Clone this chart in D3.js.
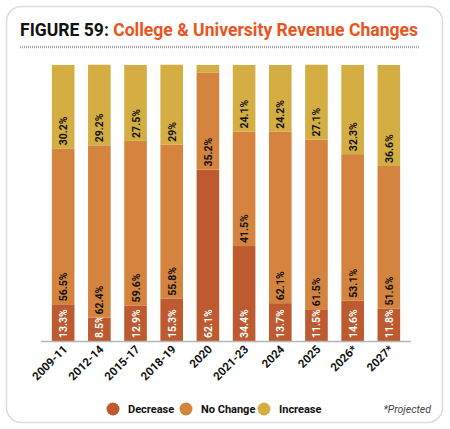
<!DOCTYPE html>
<html lang="en">
<head>
<meta charset="UTF-8">
<title>College & University Revenue Changes</title>
<script src="https://d3js.org/d3.v7.min.js"></script>
<style>
  body { margin: 0; background: #fff; font-family: Roboto, Arial, sans-serif; }
  text { font-family: Roboto, Arial, sans-serif; }
</style>
</head>
<body>
<div id="chart"></div>
<script>
const periods = ["2009-11", "2012-14", "2015-17", "2018-19", "2020", "2021-23", "2024", "2025", "2026*", "2027*"];
const decrease = [13.3, 8.5, 12.9, 15.3, 62.1, 34.4, 13.7, 11.5, 14.6, 11.8];
const noChange = [56.5, 62.4, 59.6, 55.8, 35.2, 41.5, 62.1, 61.5, 53.1, 51.6];
const increase = [30.2, 29.2, 27.5, 29, 2.7, 24.1, 24.2, 27.1, 32.3, 36.6];
const seriesNames = ["Decrease", "No Change", "Increase"];
const colors = ["#bd5a30", "#d4843e", "#d4ad43"];

const width = 450, height = 429;
const svg = d3.select("#chart").append("svg")
  .attr("width", width).attr("height", height);

// card
svg.append("rect")
  .attr("x", 6.5).attr("y", 6.5)
  .attr("width", 436).attr("height", 416)
  .attr("rx", 15)
  .attr("fill", "#fff")
  .attr("stroke", "#dcdcdc")
  .attr("stroke-width", 1.5);

// title
const title = svg.append("text")
  .attr("x", 20).attr("y", 36)
  .attr("font-size", 18.5)
  .attr("font-weight", 700)
  .attr("textLength", 398)
  .attr("lengthAdjust", "spacingAndGlyphs");
title.append("tspan").attr("fill", "#111").text("FIGURE 59: ");
title.append("tspan").attr("fill", "#ea5420").text("College & University Revenue Changes");

svg.append("line")
  .attr("x1", 20).attr("x2", 419)
  .attr("y1", 47).attr("y2", 47)
  .attr("stroke", "#a5a5a5")
  .attr("stroke-width", 2.5)
  .attr("stroke-dasharray", "1,1");

const rows = periods.map((p, i) => ({
  period: p,
  Decrease: decrease[i],
  "No Change": noChange[i],
  Increase: increase[i]
}));

const x = d3.scaleBand()
  .domain(periods)
  .range([41, 411])
  .paddingInner(0.375)
  .paddingOuter(0.3);

const y = d3.scaleLinear()
  .domain([0, 100])
  .range([341, 65]);

const stack = d3.stack().keys(seriesNames)(rows);

const layers = svg.selectAll("g.layer")
  .data(stack)
  .enter().append("g")
  .attr("class", "layer")
  .attr("fill", (d, i) => colors[i]);

layers.selectAll("rect")
  .data(d => d)
  .enter().append("rect")
  .attr("x", d => x(d.data.period))
  .attr("y", d => y(d[1]))
  .attr("width", x.bandwidth())
  .attr("height", d => y(d[0]) - y(d[1]));

// value labels
layers.each(function(layer, li) {
  d3.select(this).selectAll("text")
    .data(layer.filter(d => d[1] - d[0] > 5))
    .enter().append("text")
    .attr("transform", d => `translate(${x(d.data.period) + x.bandwidth() / 2 + 4},${y(d[0]) - 3}) rotate(-90)`)
    .attr("font-size", 10.5)
    .attr("font-weight", 700)
    .attr("fill", li === 0 ? "#fff" : "#111")
    .text(d => d.data[layer.key] + "%");
});

// axis
svg.append("line")
  .attr("x1", 41).attr("x2", 411)
  .attr("y1", 341.5).attr("y2", 341.5)
  .attr("stroke", "#b5b5b5")
  .attr("stroke-width", 1.5);

svg.selectAll("text.tick")
  .data(periods)
  .enter().append("text")
  .attr("class", "tick")
  .attr("text-anchor", "end")
  .attr("transform", d => `translate(${x(d) + x.bandwidth() / 2 + 5},${350}) rotate(-45)`)
  .attr("font-size", 11.5)
  .attr("font-weight", 700)
  .attr("fill", "#111")
  .text(d => d);

// legend
const legendX = [113, 186, 264];
const legend = svg.selectAll("g.legend")
  .data(seriesNames)
  .enter().append("g")
  .attr("class", "legend")
  .attr("transform", (d, i) => `translate(${legendX[i]},409)`);
legend.append("circle").attr("r", 6.5).attr("fill", (d, i) => colors[i]);
legend.append("text")
  .attr("x", 15).attr("y", 4)
  .attr("font-size", 11)
  .attr("font-weight", 700)
  .attr("fill", "#111")
  .text(d => d);

svg.append("text")
  .attr("x", 431).attr("y", 413)
  .attr("text-anchor", "end")
  .attr("font-size", 10.5)
  .attr("font-style", "italic")
  .attr("fill", "#444")
  .text("*Projected");
</script>
</body>
</html>
